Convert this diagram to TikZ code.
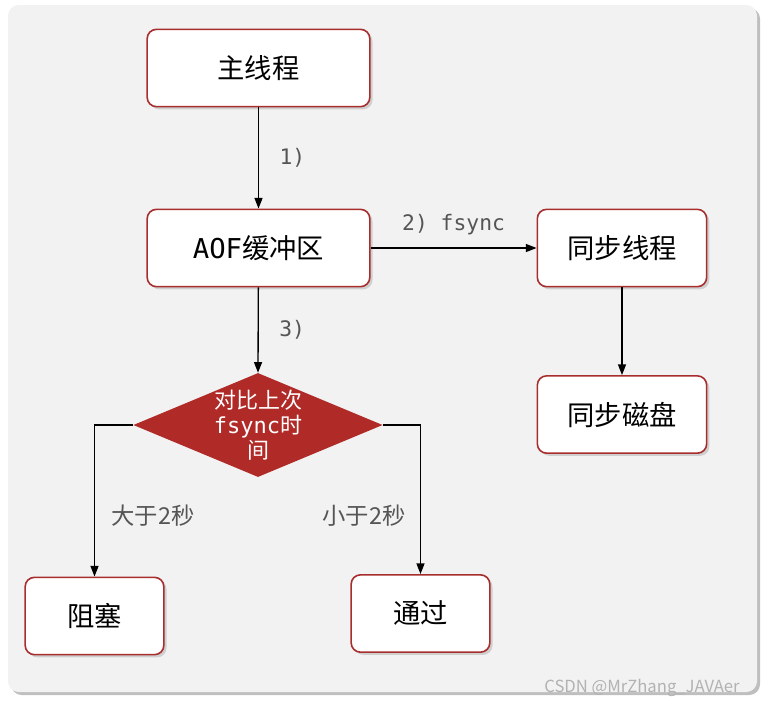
\documentclass[tikz,border=0pt]{standalone}
\usepackage{fontspec}
\setmainfont{Noto Sans CJK SC}
\newfontfamily\monof{DejaVu Sans Mono}
\usetikzlibrary{shapes.geometric,arrows.meta,shadows}
\definecolor{bd}{HTML}{A82E2E}
\definecolor{dm}{HTML}{B02A27}
\definecolor{lb}{HTML}{555555}
\tikzset{
 box/.style={draw=bd,line width=1.2pt,fill=white,rounded corners=7pt,drop shadow={shadow xshift=2pt,shadow yshift=-2pt,opacity=0.3},font=\fontsize{20.5}{24}\selectfont},
 arr/.style={-{Triangle[length=8pt,width=6pt]},line width=1pt},
 lab/.style={text=lb,font=\fontsize{17.5}{20}\selectfont}
}
\begin{document}
\begin{tikzpicture}[x=0.75pt,y=-0.75pt]
\useasboundingbox (0,0) rectangle (765,708);
\fill[black!25,rounded corners=8pt] (11,8) rectangle (760,695);
\fill[fill=black!5,rounded corners=8pt] (8,5) rectangle (757,692);
\node[box,minimum width=167pt,minimum height=58pt] (m) at (258.5,68) {主线程};
\node[box,minimum width=167pt,minimum height=58pt] (a) at (258.5,248) {{\monof AOF}缓冲区};
\node[box,minimum width=127pt,minimum height=58pt] (t) at (622,248) {同步线程};
\node[box,minimum width=127pt,minimum height=58pt] (d) at (622,414.5) {同步磁盘};
\node[diamond,fill=dm,minimum width=187pt,minimum height=78pt,aspect=2.4,inner sep=0pt] (c) at (258,425) {};
\node[text=white,align=center,font=\fontsize{16.5}{18.5}\selectfont] (ct) at (258,425) {对比上次\\{\monof fsync}时\\间};
\node[box,minimum width=104pt,minimum height=58pt] (b) at (94.5,616) {阻塞};
\node[box,minimum width=104pt,minimum height=58pt] (p) at (420.5,613.5) {通过};
\draw[arr] (m) -- (a) node[midway,right=12pt,lab,font=\monof\fontsize{16}{18}\selectfont] {1)};
\draw[arr] (a) -- (t) node[midway,above=6pt,lab,font=\monof\fontsize{16}{18}\selectfont] {2) fsync};
\draw[arr] (a) -- (c.north) node[midway,right=12pt,lab,font=\monof\fontsize{16}{18}\selectfont] {3)};
\draw[arr] (t) -- (d);
\draw[arr] (c.west) -| (b.north);
\draw[arr] (c.east) -| (p.north);
\node[lab] (l1) at (153,516) {大于2秒};
\node[lab] (l2) at (364,516) {小于2秒};
\node[text=black!30,font=\fontsize{12.5}{14}\selectfont] (w) at (642,688) {CSDN @MrZhang\_JAVAer};
\end{tikzpicture}
\end{document}
